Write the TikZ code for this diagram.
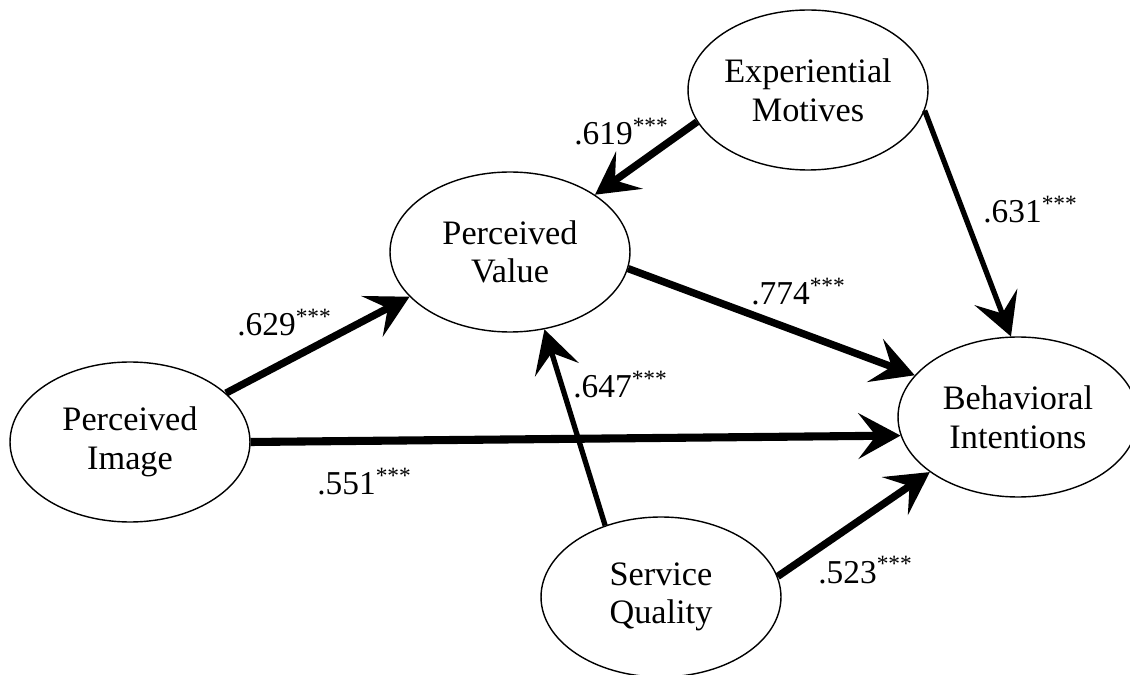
\documentclass[tikz,border=0pt]{standalone}
\usepackage{fontspec}
\setmainfont{Liberation Serif}
\usetikzlibrary{arrows.meta,shapes.geometric}

\begin{document}
\begin{tikzpicture}[
      x=0.02cm,y=-0.02cm,
      latent/.style={draw,ellipse,line width=0.8pt,minimum width=4.8cm,minimum height=3.2cm,
                     inner sep=0pt,align=center,font=\fontsize{19.5}{22}\selectfont},
      flow/.style={-{Stealth[length=24pt,width=26pt,inset=10pt]},line width=4.2pt},
      thinflow/.style={flow,line width=3pt},
      coef/.style={anchor=base west,inner sep=0pt,font=\fontsize{19}{22}\selectfont},
    ]
    \useasboundingbox (0,0) rectangle (1130,675);

    \node[latent] (em) at (808,90) {Experiential\\Motives};
    \node[latent] (pv) at (510,252) {Perceived\\Value};
    \node[latent] (pi) at (130,442) {Perceived\\Image};
    \node[latent] (bi) at (1018,417) {Behavioral\\Intentions};
    \node[latent] (sq) at (661,597) {Service\\Quality};

    \draw[flow] (em.196) -- (pv.34);
    \draw[thinflow] (em.350) -- (bi.95);
    \draw[flow] (pv.352) -- (bi.158);
    \draw[flow] (pi.27) -- (pv.204);
    \draw[flow,line width=4.6pt] (pi.0) -- (bi.189);
    \draw[thinflow] (sq.128) -- (pv.294);
    \draw[flow] (sq.10) -- (bi.212);

    \node[coef] (c619) at (574,145) {.619\textsuperscript{***}};
    \node[coef] (c631) at (983,223) {.631\textsuperscript{***}};
    \node[coef] (c774) at (751,305) {.774\textsuperscript{***}};
    \node[coef] (c629) at (237,336) {.629\textsuperscript{***}};
    \node[coef] (c647) at (573,398) {.647\textsuperscript{***}};
    \node[coef] (c551) at (317,495) {.551\textsuperscript{***}};
    \node[coef] (c523) at (818,583) {.523\textsuperscript{***}};
  \end{tikzpicture}
\end{document}
